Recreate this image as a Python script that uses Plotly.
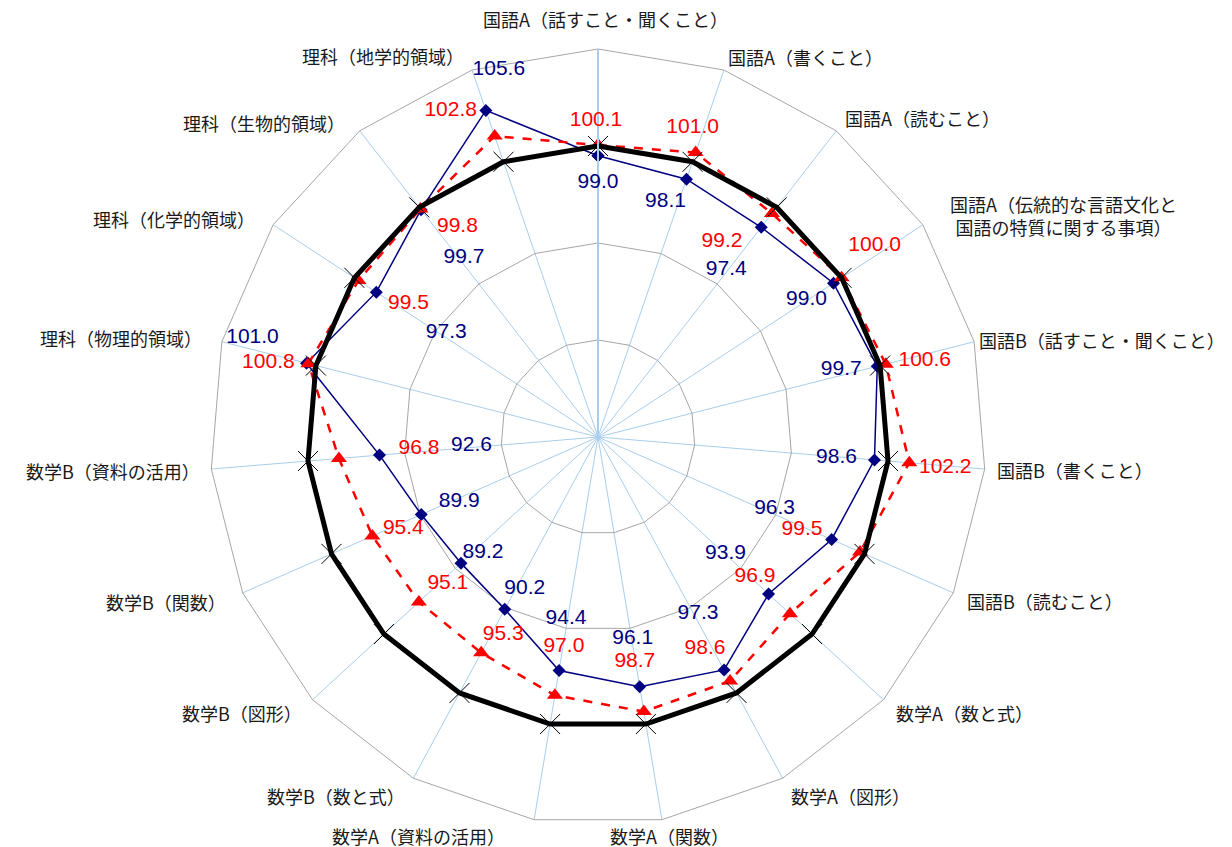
import math
import plotly.graph_objects as go

# ---------------- data ----------------
categories = [
    "国語A（話すこと・聞くこと）",
    "国語A（書くこと）",
    "国語A（読むこと）",
    "国語A（伝統的な言語文化と<br>国語の特質に関する事項）",
    "国語B（話すこと・聞くこと）",
    "国語B（書くこと）",
    "国語B（読むこと）",
    "数学A（数と式）",
    "数学A（図形）",
    "数学A（関数）",
    "数学A（資料の活用）",
    "数学B（数と式）",
    "数学B（図形）",
    "数学B（関数）",
    "数学B（資料の活用）",
    "理科（物理的領域）",
    "理科（化学的領域）",
    "理科（生物的領域）",
    "理科（地学的領域）",
]
blue_values = [99.0, 98.1, 97.4, 99.0, 99.7, 98.6, 96.3, 93.9, 97.3, 96.1,
               94.4, 90.2, 89.2, 89.9, 92.6, 101.0, 97.3, 99.7, 105.6]
red_values = [100.1, 101.0, 99.2, 100.0, 100.6, 102.2, 99.5, 96.9, 98.6, 98.7,
              97.0, 95.3, 95.1, 95.4, 96.8, 100.8, 99.5, 99.8, 102.8]
avg_values = [100.0] * len(categories)

# ---------------- label offsets (pixels, screen coords) ----------------
blue_offsets = [(0, 27), (-21, 23), (-35, 42), (-27, 17), (-36, 3), (-38, -2),
                (-57, -31), (-43, -40), (-26, -56), (-7, -48), (7, -52),
                (20, -21), (22, -10), (38, -13), (92, -9), (-54, -25),
                (70, 41), (43, 48), (13, -41)]
red_offsets = [(-2, -24), (-3, -25), (-50, 28), (33, -32), (39, -3), (36, 5),
               (-58, -22), (-35, -37), (-25, -32), (-9, -50), (9, -49),
               (22, -18), (29, -18), (31, -7), (80, -10), (-40, -1),
               (50, 23), (37, 18), (-44, -25)]
# category label centres, relative to the outer vertex of each spoke
category_offsets = [(7, -30), (82, -13), (86, -13), (141, -9), (128, -2),
                    (90, 1), (92, 8), (81, 13), (68, 18), (8, 16),
                    (-116, 16), (-77, 18), (-71, 13), (-77, 9), (-98, 2),
                    (-101, -4), (-99, -6), (-96, -8), (-89, -14)]

R_MIN, R_MAX = 70, 110
RADIUS_PX = 388
SCALE = RADIUS_PX / (R_MAX - R_MIN)
N = len(categories)


def label_positions(values, offsets):
    rs, ths = [], []
    for i, (v, (dx, dy)) in enumerate(zip(values, offsets)):
        a = math.radians(i * 360 / N)
        rp = (v - R_MIN) * SCALE
        qx = rp * math.sin(a) + dx
        qy = -rp * math.cos(a) + dy
        rs.append(R_MIN + math.hypot(qx, qy) / SCALE)
        ths.append(math.degrees(math.atan2(qx, -qy)) % 360)
    return rs, ths


def closed(lst):
    return list(lst) + [lst[0]]


BLUE = "#000080"
RED = "#FF0000"
GRID_BLUE = "#A9CDEB"
GRID_GRAY = "#A6A6A6"
NUM_FONT = "Liberation Sans, Arial, sans-serif"
CJK_FONT = "Noto Sans CJK JP, sans-serif"

fig = go.Figure()

fig.add_trace(go.Scatterpolar(
    r=closed(blue_values), theta=closed(categories), mode="lines+markers",
    line=dict(color=BLUE, width=1.5),
    marker=dict(symbol="diamond", size=10, color=BLUE),
    subplot="polar", showlegend=False, hoverinfo="skip"))

fig.add_trace(go.Scatterpolar(
    r=closed(red_values), theta=closed(categories), mode="lines+markers",
    line=dict(color=RED, width=2.5, dash="dash"),
    marker=dict(symbol="triangle-up", size=14, color=RED),
    subplot="polar", showlegend=False, hoverinfo="skip"))

fig.add_trace(go.Scatterpolar(
    r=closed(avg_values), theta=closed(categories), mode="lines+markers",
    line=dict(color="black", width=5),
    marker=dict(symbol="x-thin", size=20, line=dict(color="black", width=1)),
    subplot="polar", showlegend=False, hoverinfo="skip"))

br, bt = label_positions(blue_values, blue_offsets)
rr, rt = label_positions(red_values, red_offsets)

fig.add_trace(go.Scatterpolar(
    r=br, theta=bt, mode="text", text=[f"{v:.1f}" for v in blue_values],
    textfont=dict(color=BLUE, size=21, family=NUM_FONT),
    textposition="middle center", cliponaxis=False,
    subplot="polar2", showlegend=False, hoverinfo="skip"))

fig.add_trace(go.Scatterpolar(
    r=rr, theta=rt, mode="text", text=[f"{v:.1f}" for v in red_values],
    textfont=dict(color=RED, size=21, family=NUM_FONT),
    textposition="middle center", cliponaxis=False,
    subplot="polar2", showlegend=False, hoverinfo="skip"))

# category labels: annotations placed around the outer polygon
# (plot area == polar square, so paper 0.5 is the centre, 0.5/RADIUS_PX per px)
for i, (name, (dx, dy)) in enumerate(zip(categories, category_offsets)):
    a = math.radians(i * 360 / N)
    qx = RADIUS_PX * math.sin(a) + dx
    qy = -RADIUS_PX * math.cos(a) + dy
    fig.add_annotation(
        x=0.5 + qx / (2 * RADIUS_PX), y=0.5 - qy / (2 * RADIUS_PX),
        xref="paper", yref="paper", text=name, showarrow=False,
        xanchor="center", yanchor="middle", align="center",
        font=dict(family=CJK_FONT, size=18, color="#1a1a1a"))

# page body has an 8px margin: the figure starts 8px in from the page corner
PAGE_W, PAGE_H, BODY_M = 1232, 847, 8
W, H = PAGE_W - BODY_M, PAGE_H - BODY_M
cx, cy = 598 - BODY_M, 437 - BODY_M
fig.update_layout(
    width=W, height=H,
    paper_bgcolor="white", plot_bgcolor="white",
    margin=dict(l=cx - RADIUS_PX, r=W - cx - RADIUS_PX,
                t=cy - RADIUS_PX, b=H - cy - RADIUS_PX),
    font=dict(family=CJK_FONT, size=18, color="#1a1a1a"),
    polar=dict(
        domain=dict(x=[0, 1], y=[0, 1]),
        bgcolor="white",
        gridshape="linear",
        angularaxis=dict(
            type="category", categoryarray=categories,
            direction="clockwise", rotation=90,
            showgrid=True, gridcolor=GRID_BLUE, gridwidth=1,
            showline=True, linecolor=GRID_GRAY, linewidth=1,
            showticklabels=False, ticks="",
        ),
        radialaxis=dict(
            range=[R_MIN, R_MAX], dtick=10, tick0=70,
            angle=90, showticklabels=False, ticks="",
            showgrid=True, gridcolor=GRID_GRAY, gridwidth=1,
            showline=True, linecolor=GRID_BLUE, linewidth=2,
        ),
    ),
    polar2=dict(
        domain=dict(x=[0, 1], y=[0, 1]),
        bgcolor="rgba(0,0,0,0)",
        angularaxis=dict(
            type="linear", thetaunit="degrees",
            direction="clockwise", rotation=90, visible=False,
        ),
        radialaxis=dict(range=[R_MIN, R_MAX], visible=False),
    ),
)

fig.write_html("out.html")
